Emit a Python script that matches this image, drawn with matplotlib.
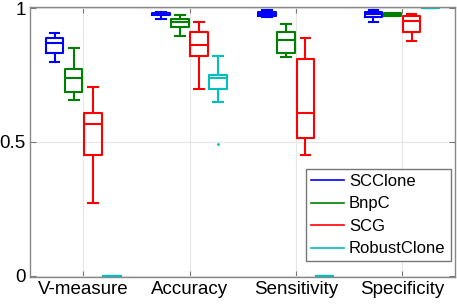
import matplotlib
matplotlib.use("Agg")
import matplotlib.pyplot as plt
from matplotlib.lines import Line2D

plt.rcParams['font.family'] = ['Liberation Sans', 'DejaVu Sans']

metrics = ["V-measure", "Accuracy", "Sensitivity", "Specificity"]
methods = ["SCClone", "BnpC", "SCG", "RobustClone"]
colors = ["#0000ff", "#008000", "#ff0000", "#00bfbf"]

# five-number summaries per metric: (whislo, q1, med, q3, whishi)
scclone = [(0.797, 0.833, 0.870, 0.887, 0.908),
           (0.959, 0.973, 0.979, 0.983, 0.986),
           (0.965, 0.970, 0.979, 0.986, 0.994),
           (0.948, 0.968, 0.978, 0.985, 0.993)]
bnpc = [(0.658, 0.687, 0.740, 0.771, 0.852),
        (0.897, 0.930, 0.947, 0.959, 0.975),
        (0.817, 0.833, 0.881, 0.910, 0.940),
        (0.969, 0.972, 0.976, 0.980, 0.983)]
scg = [(0.270, 0.451, 0.568, 0.608, 0.705),
       (0.697, 0.821, 0.861, 0.912, 0.949),
       (0.451, 0.514, 0.607, 0.808, 0.888),
       (0.878, 0.912, 0.951, 0.970, 0.978)]
robustclone = [(0.0, 0.0, 0.0, 0.0, 0.0),
               (0.650, 0.699, 0.740, 0.749, 0.820),
               (0.0, 0.0, 0.0, 0.0, 0.0),
               (1.0, 1.0, 1.0, 1.0, 1.0)]
robustclone_fliers = [[], [0.491], [], []]

all_stats = [scclone, bnpc, scg, robustclone]
all_fliers = [[[], [], [], []], [[], [], [], []], [[], [], [], []], robustclone_fliers]
offsets = [-0.27, -0.09, 0.09, 0.27]

fig = plt.figure(figsize=(4.57, 3.04), dpi=100)
ax = fig.add_axes([0.066, 0.089, 0.93, 0.888])

for m, (stats, fl, col, off) in enumerate(zip(all_stats, all_fliers, colors, offsets)):
    bx = []
    for i, s in enumerate(stats):
        bx.append(dict(whislo=s[0], q1=s[1], med=s[2], q3=s[3], whishi=s[4], fliers=fl[i]))
    pos = [i + 1 + off for i in range(len(metrics))]
    kw = dict(color=col, linewidth=1.5)
    ax.bxp(bx, positions=pos, widths=0.165, showfliers=True,
           boxprops=kw, medianprops=kw, whiskerprops=kw,
           capprops=kw, capwidths=0.09,
           flierprops=dict(marker='.', markersize=2, markeredgecolor=col,
                           markerfacecolor=col), manage_ticks=False)

ax.set_xlim(0.5, 4.5)
ax.set_ylim(-0.005, 1.004)
ax.set_xticks(range(1, len(metrics) + 1))
ax.set_xticklabels(metrics)
ax.set_yticks([0, 0.5, 1])
ax.set_yticklabels(["0", "0.5", "1"])
ax.grid(True, color="#e6e6e6", linewidth=0.8)
ax.set_axisbelow(True)
ax.tick_params(direction='in', top=True, right=True, labelsize=13.5,
               color="#777777", length=4, pad=3)
for sp in ax.spines.values():
    sp.set_color("#888888")
    sp.set_linewidth(1.0)

handles = [Line2D([0], [0], color=c, lw=1.2) for c in colors]
leg = ax.legend(handles, methods, loc='lower right', bbox_to_anchor=(0.997, 0.045),
                fontsize=12, fancybox=False, framealpha=1, edgecolor="#777777",
                handlelength=2.0, handletextpad=0.3, borderpad=0.3, labelspacing=0.45,
                borderaxespad=0.2)
leg.get_frame().set_linewidth(1.0)

fig.savefig("out.png", dpi=100)
